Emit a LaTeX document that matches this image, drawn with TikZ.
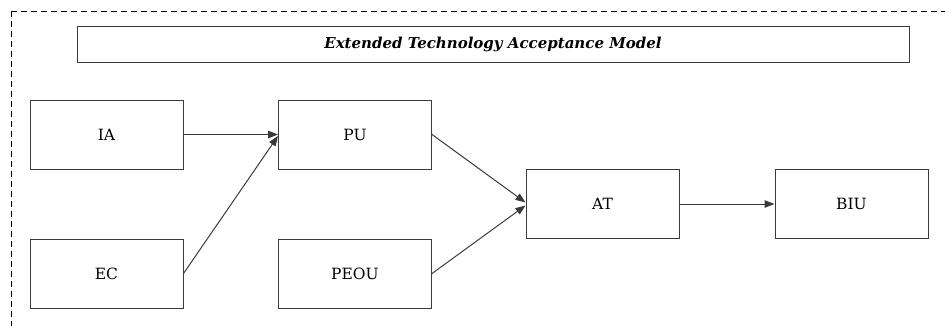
\documentclass[tikz,border=0pt]{standalone}
\usepackage{fontspec}
\setmainfont{DejaVu Serif}
\usetikzlibrary{arrows.meta}
\definecolor{edge}{HTML}{3A3A3A}
\tikzset{
  construct/.style={draw=edge, line width=1pt, minimum width=153pt, minimum height=69pt,
    inner sep=0pt, font=\fontsize{15.5}{19}\selectfont},
  banner/.style={draw=edge, line width=1pt, minimum width=832pt, minimum height=36pt,
    inner sep=0pt, font=\fontsize{15}{19}\selectfont\bfseries\itshape},
  link/.style={draw=edge, line width=1pt, -{Triangle[length=10pt,width=7.5pt]}},
  frame/.style={draw=black, line width=1pt, dash pattern=on 6pt off 4pt}
}
\begin{document}
\begin{tikzpicture}[x=1pt, y=-1pt]
  \useasboundingbox (0,0) rectangle (945,325);
  % dashed enclosure, running past the right and bottom edges
  \begin{scope}
    \clip (0,0) rectangle (945,325);
    \draw[frame] (11,11) rectangle (980,360);
  \end{scope}
  % title bar
  \node[banner] (title) at (493,44) {Extended Technology Acceptance Model};
  % constructs
  \node[construct] (IA)   at (106.5,134.5) {IA};
  \node[construct] (PU)   at (355,134.5)   {PU};
  \node[construct] (EC)   at (106.5,273.5) {EC};
  \node[construct] (PEOU) at (355,273.5)   {PEOU};
  \node[construct] (AT)   at (602.5,204)   {AT};
  \node[construct] (BIU)  at (851.5,204)   {BIU};
  % relations
  \draw[link] (IA.east) -- (PU.west);
  \draw[link] (EC.east) -- ([yshift=-1.5pt]PU.west);
  \draw[link] (PU.east) -- ([yshift=1.5pt]AT.west);
  \draw[link] (PEOU.east) -- ([yshift=-1.5pt]AT.west);
  \draw[link] (AT.east) -- (BIU.west);
\end{tikzpicture}
\end{document}
